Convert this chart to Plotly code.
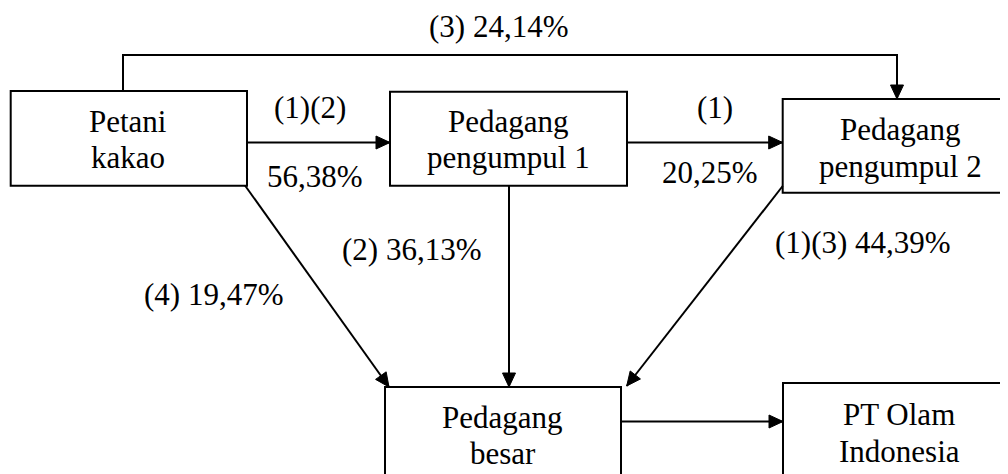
import plotly.graph_objects as go
import numpy as np

# ---- content ----
node_names = ["Petani kakao", "Pedagang pengumpul 1", "Pedagang pengumpul 2",
              "Pedagang besar", "PT Olam Indonesia"]
node_lines = [["Petani", "kakao"],
              ["Pedagang", "pengumpul 1"],
              ["Pedagang", "pengumpul 2"],
              ["Pedagang", "besar"],
              ["PT Olam", "Indonesia"]]
edge_labels = ["(1)(2)", "56,38%", "(1)", "20,25%", "(3) 24,14%",
               "(2) 36,13%", "(4) 19,47%", "(1)(3) 44,39%"]

# ---- layout geometry (pixel space of the window, y downward) ----
W, H = 1008, 474
PAD = 8  # page body margin
boxes = [  # x0, x1, y0, y1
    (10.7, 247, 91, 185.7),
    (390, 627, 91.7, 185.7),
    (782.7, 1022, 99, 192.7),
    (385, 621, 387, 500),
    (783, 1022, 383, 500),
]
node_text_pos = [  # center x, baseline line1, baseline line2
    (128, 131.7, 168),
    (508, 132, 168.3),
    (900, 140, 176.7),
    (502.5, 428.3, 464),
    (899, 425, 461.7),
]
edge_text_pos = [  # center x, baseline
    (310, 118), (314.5, 187.3), (715, 118), (710, 182.7),
    (498.5, 36.7), (411, 260), (213.3, 305), (862.5, 253.3),
]
# connectors: polylines, arrow at last point
connectors = [
    [(247, 142.5), (390, 142.5)],
    [(627, 142.5), (782.7, 142.5)],
    [(123, 91), (123, 55), (897, 55), (897, 99)],
    [(245, 185.5), (389, 387)],
    [(509, 185.7), (509, 387)],
    [(782.7, 186), (626.7, 386)],
    [(621, 421.5), (783, 421.5)],
]

FONT = dict(family="Liberation Serif", size=31)
LW = 2
AH_L, AH_W = 14, 6.5
BASE_OFF = 10.5  # baseline -> middle of text box

fig = go.Figure()
shapes = []
for (x0, x1, y0, y1) in boxes:
    shapes.append(dict(type="rect", xref="x", yref="y", x0=x0, x1=x1, y0=y0, y1=y1,
                       line=dict(color="black", width=LW), fillcolor="white", layer="below"))

for pts in connectors:
    path = "M " + " L ".join(f"{x},{y}" for x, y in pts)
    shapes.append(dict(type="path", xref="x", yref="y", path=path,
                       line=dict(color="black", width=LW)))
    (xa, ya), (xb, yb) = pts[-2], pts[-1]
    d = np.array([xb - xa, yb - ya], dtype=float)
    d /= np.linalg.norm(d)
    n = np.array([-d[1], d[0]])
    tip = np.array([xb, yb])
    base = tip - d * AH_L
    p1 = base + n * AH_W
    p2 = base - n * AH_W
    shapes.append(dict(type="path", xref="x", yref="y",
                       path=f"M {tip[0]},{tip[1]} L {p1[0]},{p1[1]} L {p2[0]},{p2[1]} Z",
                       fillcolor="black", line=dict(color="black", width=1)))

fig.update_layout(
    font=dict(family="Liberation Serif", color="black"),
    width=W - PAD, height=H - PAD, margin=dict(l=0, r=0, t=0, b=0),
    paper_bgcolor="white", plot_bgcolor="white",
    xaxis=dict(range=[PAD, W], visible=False),
    yaxis=dict(range=[H, PAD], visible=False),
    shapes=shapes, showlegend=False,
)
for lines, (cx, b1, b2) in zip(node_lines, node_text_pos):
    for txt, b in zip(lines, (b1, b2)):
        fig.add_annotation(x=cx, y=b - BASE_OFF, xref="x", yref="y", text=txt,
                           showarrow=False, xanchor="center", yanchor="middle", font=FONT)
for txt, (cx, b) in zip(edge_labels, edge_text_pos):
    fig.add_annotation(x=cx, y=b - BASE_OFF, xref="x", yref="y", text=txt,
                       showarrow=False, xanchor="center", yanchor="middle", font=FONT)

fig.write_html("out.html", config={"displayModeBar": False})
